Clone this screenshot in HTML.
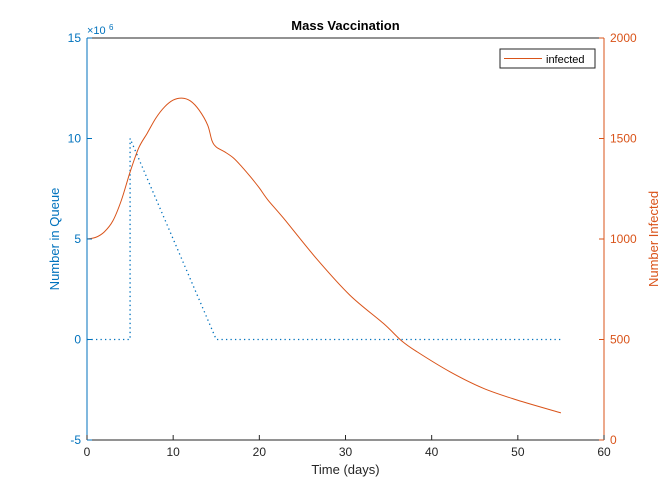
<!DOCTYPE html>
<html><head><meta charset="utf-8"><style>
body{margin:0;background:#fff;}
svg{font-family:"Liberation Sans",sans-serif;display:block;}
</style></head><body>
<svg id="c" width="669" height="495"></svg>
<script>
const days=[0,1,2,3,4,5,6,7,8,9,10,11,12,13,14,14.5,15,16,17,18,19,20,21,22.8,26.6,30.5,34.4,36.5,38.3,42.1,46,49.9,55];
const infected=[1000,1008,1035,1090,1194,1333,1453,1527,1602,1657,1691,1701,1687,1642,1567,1490,1458,1433,1403,1358,1308,1254,1194,1104,904,721,580,494,439,340,257,199,135];
const queueDays=[0,5,5,15,55];
const queueVals=[0,0,10,0,0];
const xTicks=[0,10,20,30,40,50,60];
const yLTicks=[-5,0,5,10,15];
const yRTicks=[0,500,1000,1500,2000];
const L=87,R=604,T=38,B=440;
const sx=d=>L+(d/60)*(R-L);
const syL=v=>B-(v+5)/20*(B-T);
const syR=v=>B-v/2000*(B-T);
const NS="http://www.w3.org/2000/svg";
const svg=document.getElementById('c');
function mk(tag,a,txt){const e=document.createElementNS(NS,tag);for(const k in a)e.setAttribute(k,a[k]);if(txt!==undefined)e.textContent=txt;svg.appendChild(e);return e;}
const blue="#0072BD",org="#D95319";
let e;
e=mk('rect',{x:L,y:T,width:R-L,height:B-T,fill:'#fff'});


e=mk('polyline',{points:queueDays.map((d,i)=>sx(d)+','+syL(queueVals[i])).join(' '),fill:'none',stroke:blue,'stroke-width':1.3,'stroke-dasharray':'1.3,3.2'});


// infected smooth (Catmull-Rom)
const P=days.map((d,i)=>[sx(d),syR(infected[i])]);
let dstr='M'+P[0][0]+','+P[0][1];
for(let i=0;i<P.length-1;i++){const p0=P[Math.max(0,i-1)],p1=P[i],p2=P[i+1],p3=P[Math.min(P.length-1,i+2)];
const c1=[p1[0]+(p2[0]-p0[0])/6,p1[1]+(p2[1]-p0[1])/6],c2=[p2[0]-(p3[0]-p1[0])/6,p2[1]-(p3[1]-p1[1])/6];
dstr+=` C${c1[0]},${c1[1]} ${c2[0]},${c2[1]} ${p2[0]},${p2[1]}`;}
e=mk('path',{d:dstr,fill:'none',stroke:org,'stroke-width':1});


mk('line',{x1:L,y1:T,x2:R,y2:T,stroke:'#262626'});
mk('line',{x1:L,y1:B,x2:R,y2:B,stroke:'#262626'});
e=mk('line',{x1:L,y1:T,x2:L,y2:B,stroke:blue});


e=mk('line',{x1:R,y1:T,x2:R,y2:B,stroke:org});


xTicks.forEach(t=>{const x=sx(t);mk('line',{x1:x,y1:B,x2:x,y2:B-5,stroke:'#262626'});
e=mk('text',{x:x,y:B+16,'text-anchor':'middle','font-size':12,fill:'#262626'},t);

});
yLTicks.forEach(t=>{const y=syL(t);mk('line',{x1:L,y1:y,x2:L+5,y2:y,stroke:blue});
e=mk('text',{x:L-6,y:y+4,'text-anchor':'end','font-size':12,fill:blue},t);

});
yRTicks.forEach(t=>{const y=syR(t);mk('line',{x1:R,y1:y,x2:R-5,y2:y,stroke:org});
e=mk('text',{x:R+6,y:y+4,'text-anchor':'start','font-size':12,fill:org},t);

});
e=mk('text',{x:L,y:T-4,'font-size':11,fill:blue},'×10');


mk('text',{x:L+22,y:T-8,'font-size':8,fill:blue},'6');
e=mk('text',{x:(L+R)/2,y:T-8,'text-anchor':'middle','font-size':13,'font-weight':'bold',fill:'#000'},'Mass Vaccination');


e=mk('text',{x:(L+R)/2,y:B+34,'text-anchor':'middle','font-size':13,fill:'#262626'},'Time (days)');


e=mk('text',{x:0,y:0,'text-anchor':'middle','font-size':13,fill:blue,transform:`translate(59,${(T+B)/2}) rotate(-90)`},'Number in Queue');


e=mk('text',{x:0,y:0,'text-anchor':'middle','font-size':13,fill:org,transform:`translate(658,${(T+B)/2}) rotate(-90)`},'Number Infected');


e=mk('rect',{x:500,y:49,width:95,height:19,fill:'#fff',stroke:'#262626','stroke-width':1});


mk('line',{x1:504,y1:58.5,x2:542,y2:58.5,stroke:org});
e=mk('text',{x:546,y:63,'font-size':11,fill:'#000'},'infected');


</script>
</body></html>
